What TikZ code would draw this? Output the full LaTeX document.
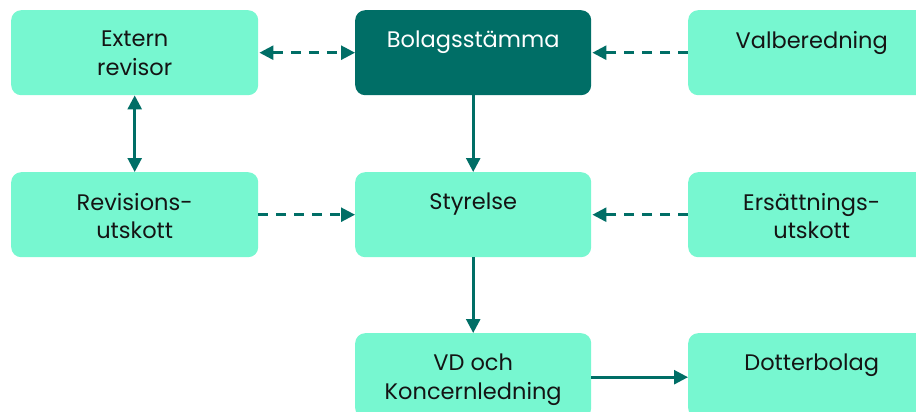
\documentclass[tikz,border=0pt]{standalone}
\usepackage{fontspec}
\setmainfont{Poppins}
\usetikzlibrary{arrows.meta}
\definecolor{lightg}{HTML}{77F7D0}
\definecolor{darkg}{HTML}{006E66}
\definecolor{txt}{HTML}{141414}
\tikzset{
  x=1pt, y=-1pt,
  box/.style={draw=none, fill=lightg, rounded corners=10pt, minimum width=#1, minimum height=85pt, anchor=north west, inner sep=0pt},
  box/.default=247pt,
  lbl/.style={anchor=north, inner sep=0pt, align=center, text=txt, font=\fontsize{22.5}{28.5}\selectfont},
  conn/.style={draw=darkg, line width=2.6pt, -{Triangle[length=14pt,width=14pt]}},
  biconn/.style={conn, {Triangle[length=14pt,width=14pt]}-{Triangle[length=14pt,width=14pt]}},
  dconn/.style={dash pattern=on 10pt off 8pt}
}
\begin{document}
\begin{tikzpicture}
\useasboundingbox (0,0) rectangle (916,412);
\clip (0,0) rectangle (916,412);
\node[box] (ext) at (11,10) {};
\node[box=236pt, fill=darkg] (bol) at (355,10) {};
\node[box] (val) at (688,10) {};
\node[box] (rev) at (11,172) {};
\node[box=236pt] (sty) at (355,172) {};
\node[box] (ers) at (688,172) {};
\node[box=236pt] (vd) at (355,333) {};
\node[box] (dot) at (688,333) {};

\node[lbl] (extt) at (ext.north) [yshift=-21pt] {Extern\\revisor};
\node[lbl, text=white] (bolt) at (bol.north) [yshift=-21pt] {Bolagsstämma};
\node[lbl] (valt) at (val.north) [yshift=-21pt] {Valberedning};
\node[lbl] (revt) at (rev.north) [yshift=-21pt] {Revisions-\\utskott};
\node[lbl] (styt) at (sty.north) [yshift=-21pt] {Styrelse};
\node[lbl] (erst) at (ers.north) [yshift=-21pt] {Ersättnings-\\utskott};
\node[lbl] (vdt) at (vd.north) [yshift=-21pt] {VD och\\Koncernledning};
\node[lbl] (dott) at (dot.north) [yshift=-21pt] {Dotterbolag};

\draw[biconn, dconn] ([xshift=1pt]ext.east) -- (bol.west);
\draw[conn, dconn] (val.west) -- ([xshift=1pt]bol.east);
\draw[biconn] (ext.south) -- (rev.north);
\draw[conn] (bol.south) -- (sty.north);
\draw[conn, dconn] (rev.east) -- (sty.west);
\draw[conn, dconn] (ers.west) -- ([xshift=1pt]sty.east);
\draw[conn] (sty.south) -- (vd.north);
\draw[conn] ([yshift=-1.5pt]vd.east) -- ([yshift=-1.5pt]dot.west);
\end{tikzpicture}
\end{document}
